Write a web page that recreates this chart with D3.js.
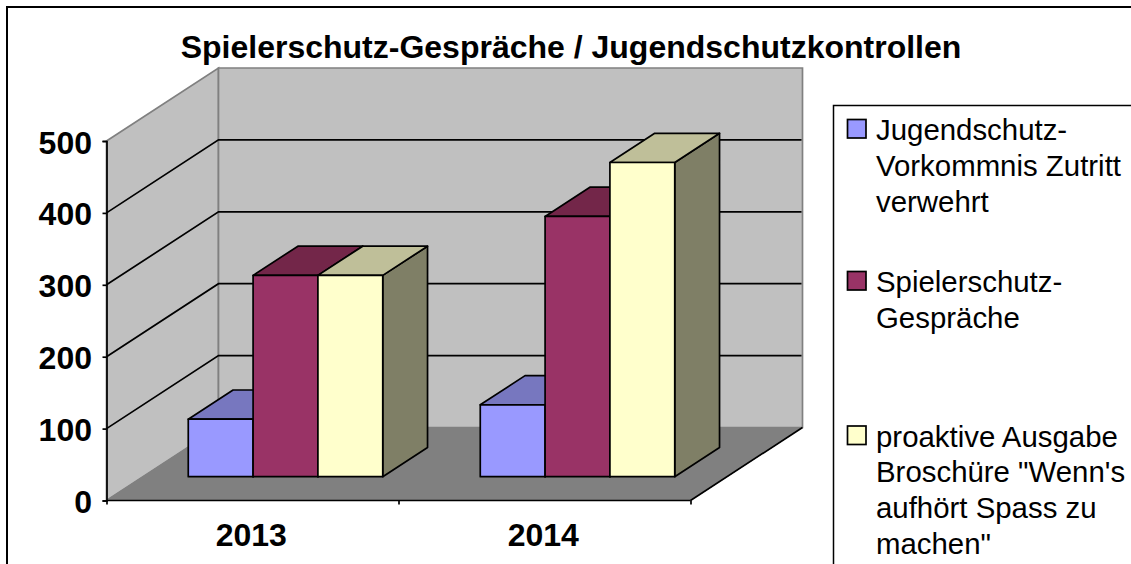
<!DOCTYPE html>
<html>
<head>
<meta charset="utf-8">
<script src="https://cdn.jsdelivr.net/npm/d3@7"></script>
<style>
  html, body { margin: 0; padding: 0; background: #fff; overflow: hidden; }
  text { font-family: "Liberation Sans", Arial, sans-serif; fill: #000; }
</style>
</head>
<body>
<div id="wrapper"></div>
<script>
const years = ["2013", "2014"]
const seriesNames = ["Jugendschutz", "Spielerschutz", "Broschuere"]
const jugendschutz = [80, 100]
const spielerschutz = [280, 362]
const broschuere = [280, 437]
const yTicks = [0, 100, 200, 300, 400, 500]
const barColors = ["#9999ff", "#993366", "#ffffcc"]
const topColors = ["#7777bf", "#732649", "#bfbf99"]
const sideColors = ["#5f5f99", "#5c1f3d", "#7f7f66"]
const legendLines = [
  ["Jugendschutz-", "Vorkommnis Zutritt", "verwehrt"],
  ["Spielerschutz-", "Gespräche"],
  ["proaktive Ausgabe", "Broschüre \"Wenn's", "aufhört Spass zu", "machen\""],
]
const chartTitle = "Spielerschutz-Gespräche / Jugendschutzkontrollen"

const seriesValues = [jugendschutz, spielerschutz, broschuere]

const dimensions = {
  width: 1131,
  height: 564,
  left: 106.5,
  right: 690.5,
  top: 141,
  bottom: 500.5,
  depthX: 112,
  depthY: 73,
}
const lineWidth = 1.7
const boldFont = "32px"

const svg = d3.select("#wrapper")
  .append("svg")
    .attr("width", dimensions.width)
    .attr("height", dimensions.height)
    .style("display", "block")

// outer frame runs off the right and bottom of the picture
svg.append("rect")
    .attr("x", 7)
    .attr("y", 7)
    .attr("width", 1160)
    .attr("height", 600)
    .attr("fill", "#fff")
    .attr("stroke", "#000")
    .attr("stroke-width", 2)

svg.append("text")
    .attr("x", 571)
    .attr("y", 57.5)
    .attr("text-anchor", "middle")
    .style("font-size", boldFont)
    .style("font-weight", "bold")
    .text(chartTitle)

// scales
const xScale = d3.scaleBand()
  .domain(years)
  .range([dimensions.left, dimensions.right])
  .paddingInner(0.334)
  .paddingOuter(0.167)
  .align(0.464)

const barScale = d3.scaleBand()
  .domain(seriesNames)
  .range([0, xScale.bandwidth()])

const yScale = d3.scaleLinear()
  .domain([0, 500])
  .range([dimensions.bottom, dimensions.top])

// depth 0 is the front of the floor, depth 1 the back wall
const project = (x, y, depth) => [
  x + depth * dimensions.depthX,
  y - depth * dimensions.depthY,
]
const polygon = points => "M" + points.map(p => p.join(",")).join("L") + "Z"

const x0 = dimensions.left
const x1 = dimensions.right
const y0 = yScale(0)
const yMax = yScale(500)

// walls and floor
const walls = svg.append("g")
walls.append("path")
    .attr("d", polygon([project(x0, yMax, 0), project(x0, yMax, 1), project(x0, y0, 1), project(x0, y0, 0)]))
    .attr("fill", "#c0c0c0")
    .attr("stroke", "#808080")
    .attr("stroke-width", lineWidth)
walls.append("path")
    .attr("d", polygon([project(x0, yMax, 1), project(x1, yMax, 1), project(x1, y0, 1), project(x0, y0, 1)]))
    .attr("fill", "#c0c0c0")
    .attr("stroke", "#808080")
    .attr("stroke-width", lineWidth)
walls.append("path")
    .attr("d", polygon([project(x0, y0, 0), project(x0, y0, 1), project(x1, y0, 1), project(x1, y0, 0)]))
    .attr("fill", "#808080")
    .attr("stroke", "#808080")

// gridlines along both walls, the 500 line is only the gray top edge
const gridTicks = yTicks.filter(d => d > 0 && d < 500)
walls.selectAll(".grid")
  .data(gridTicks)
  .join("path")
    .attr("class", "grid")
    .attr("d", d => d3.line()([
      project(x0, yScale(d), 0),
      project(x0, yScale(d), 1),
      project(x1 - 1, yScale(d), 1),
    ]))
    .attr("fill", "none")
    .attr("stroke", "#000")
    .attr("stroke-width", lineWidth)

// front edge of floor on the right
walls.append("path")
    .attr("d", d3.line()([project(x1, y0, 0), project(x1, y0, 1)]))
    .attr("stroke", "#000")
    .attr("stroke-width", lineWidth)

// axes
const yAxis = svg.append("g")
    .attr("transform", `translate(${x0},0)`)
    .call(d3.axisLeft(yScale).tickValues(yTicks).tickSize(4).tickPadding(10.5))
yAxis.selectAll("path, line").attr("stroke", "#000").attr("stroke-width", lineWidth)
yAxis.selectAll("text")
    .attr("dy", "0.375em")
    .style("font-family", "'Liberation Sans', Arial, sans-serif")
    .style("font-size", boldFont)
    .style("font-weight", "bold")
    .attr("fill", "#000")

const bandEdges = d3.scalePoint()
  .domain(d3.range(years.length + 1))
  .range([x0, x1])

const xAxis = svg.append("g")
    .attr("transform", `translate(0,${y0})`)
    .call(d3.axisBottom(bandEdges).tickSize(4).tickFormat(""))
xAxis.selectAll("path, line").attr("stroke", "#000").attr("stroke-width", lineWidth)
xAxis.select("path").attr("d", `M${x0},0H${x1}`)

svg.append("g").selectAll("text")
  .data(years)
  .join("text")
    .attr("x", d => x0 + bandEdges.step() * (years.indexOf(d) + 0.5) - 1.2)
    .attr("y", 546)
    .attr("text-anchor", "middle")
    .style("font-size", boldFont)
    .style("font-weight", "bold")
    .text(d => d)

// bars, painted left to right so the later ones cover the earlier sides
const barFront = 0.326
const barDepth = 0.4
const barsGroup = svg.append("g")
  .attr("stroke", "#000")
  .attr("stroke-width", lineWidth)
  .attr("stroke-linejoin", "round")

years.forEach((year, yearIndex) => {
  seriesNames.forEach((name, i) => {
    const left = xScale(year) + barScale(name)
    const right = left + barScale.bandwidth()
    const top = yScale(seriesValues[i][yearIndex])
    const a = barFront
    const b = barFront + barDepth

    barsGroup.append("path")
        .attr("d", polygon([project(right, top, a), project(right, top, b), project(right, y0, b), project(right, y0, a)]))
        .attr("fill", sideColors[i])
    barsGroup.append("path")
        .attr("d", polygon([project(left, top, a), project(left, top, b), project(right, top, b), project(right, top, a)]))
        .attr("fill", topColors[i])
    barsGroup.append("path")
        .attr("d", polygon([project(left, top, a), project(right, top, a), project(right, y0, a), project(left, y0, a)]))
        .attr("fill", barColors[i])
  })
})

// legend, box also runs off the picture
svg.append("rect")
    .attr("x", 833.5)
    .attr("y", 105.5)
    .attr("width", 320)
    .attr("height", 500)
    .attr("fill", "#fff")
    .attr("stroke", "#000")
    .attr("stroke-width", 1.5)

const legendTops = [119.5, 271.5, 426]
const lineHeight = 35.8
const legend = svg.append("g")
legendLines.forEach((lines, i) => {
  legend.append("rect")
      .attr("x", 847.5)
      .attr("y", legendTops[i])
      .attr("width", 18.5)
      .attr("height", 18.5)
      .attr("fill", barColors[i])
      .attr("stroke", "#000")
      .attr("stroke-width", lineWidth)
  legend.selectAll(null)
    .data(lines)
    .join("text")
      .attr("x", 876)
      .attr("y", (d, j) => legendTops[i] + 20.5 + j * lineHeight)
      .style("font-size", "29.4px")
      .text(d => d)
})
</script>
</body>
</html>
